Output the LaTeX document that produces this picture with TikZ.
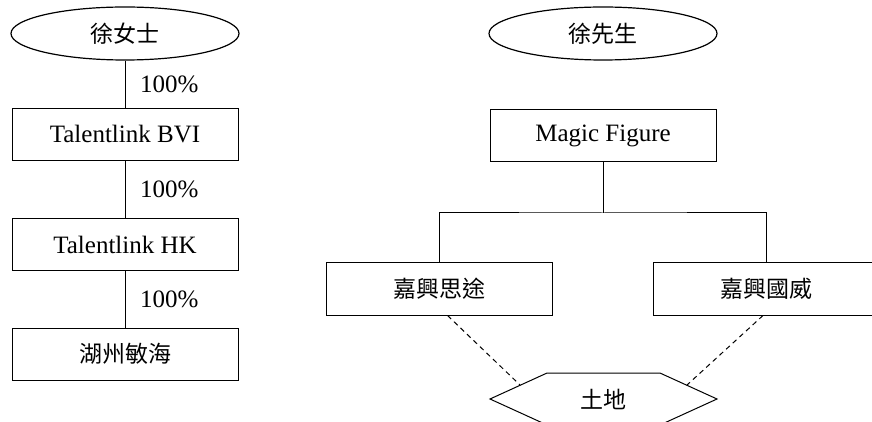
\documentclass[tikz,border=0pt]{standalone}
\usepackage{fontspec}
\setmainfont{Liberation Serif}
\newfontfamily\cjk{Noto Sans CJK TC}[Scale=0.92]
\usetikzlibrary{shapes.geometric}
\usetikzlibrary{shapes.symbols}
\tikzstyle{chart}=[x=50pt, y=50pt, line width=0.5pt, font=\fontsize{12.5}{15}\selectfont]
\tikzstyle{owner}=[ellipse, draw, line width=0.6pt, minimum width=114pt, minimum height=26.5pt, inner sep=0pt]
\tikzstyle{co}=[rectangle, draw, minimum width=113pt, minimum height=26pt, inner sep=0pt]
\tikzstyle{asset}=[signal, signal to=west and east, signal pointer angle=49, draw, minimum width=113.5pt, minimum height=26pt, inner sep=0pt]
\tikzstyle{link}=[-]
\tikzstyle{share}=[-, dash pattern=on 2.5pt off 2pt]
\tikzstyle{pctLabel}=[midway, right=4pt]

\begin{document}
\begin{tikzpicture}[chart]
	\useasboundingbox (0,0) rectangle (8.72,-4.22);
	% left chain
	\draw (1.25,-0.335) node[owner] (msxu) {\cjk 徐女士};
	\draw (1.25,-1.345) node[co] (bvi) {Talentlink BVI};
	\draw (1.25,-2.445) node[co] (hk) {Talentlink HK};
	\draw (1.25,-3.54) node[co] (minhai) {\cjk 湖州敏海};
	
	\draw[link] (msxu) -- (bvi) node [pctLabel] {100\%};
	\draw[link] (bvi) -- (hk) node [pctLabel] {100\%};
	\draw[link] (hk) -- (minhai) node [pctLabel] {100\%};
	%
	\draw (6.03,-0.335) node[owner] (mrxu) {\cjk 徐先生};
	\draw (6.03,-1.355) node[co] (magic) {Magic Figure};
	\draw (4.395,-2.89) node[co] (situ) {\cjk 嘉興思途};
	\draw (7.66,-2.89) node[co] (guowei) {\cjk 嘉興國威};
	\draw (6.035,-3.99) node[asset] (land) {\cjk 土地};
	\coordinate (fork) at (6.03,-2.13);
	\coordinate (landL) at (5.2,-3.85);
	\coordinate (landR) at (6.87,-3.85);
	
	\draw[link] (magic) -- (fork);
	\draw[link] (situ) |- (fork) -| (guowei);
	%
	\draw[share] ([xshift=4pt]situ.south) -- (landL);
	\draw[share] ([xshift=-1.5pt]guowei.south) -- (landR);
\end{tikzpicture}
\end{document}
